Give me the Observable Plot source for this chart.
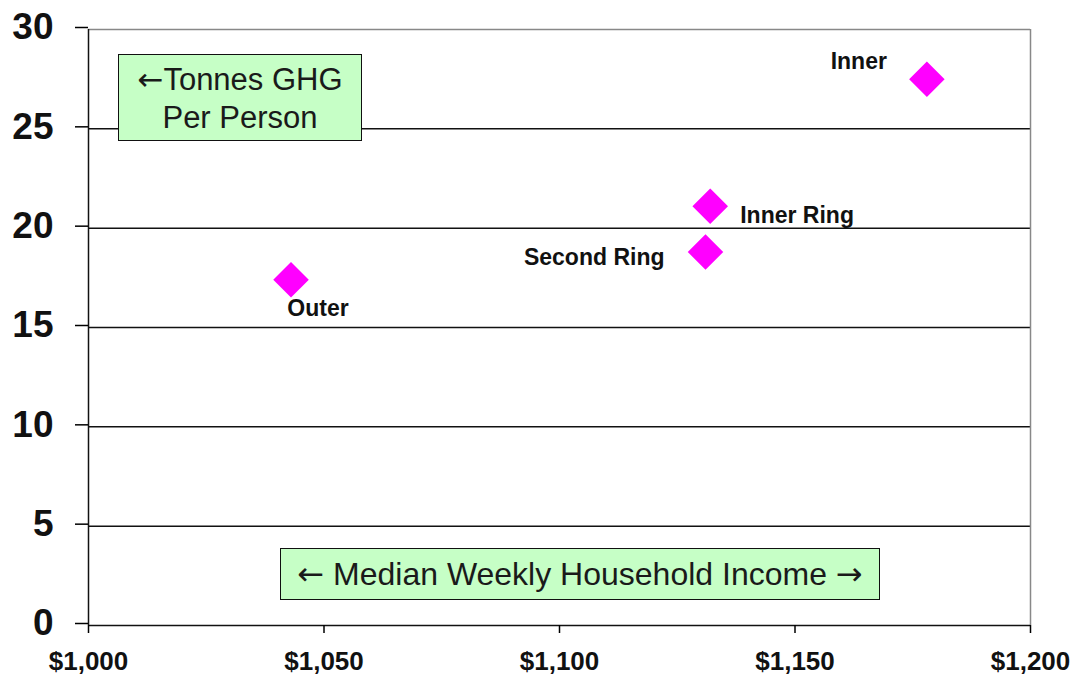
<!DOCTYPE html>
<html>
<head>
<meta charset="utf-8">
<script src="https://cdn.jsdelivr.net/npm/d3@7"></script>
<script src="https://cdn.jsdelivr.net/npm/@observablehq/plot@0.6"></script>
<style>
  html, body { margin: 0; padding: 0; background: #fff; }
  #wrap { position: relative; width: 1080px; height: 684px; }
  .box { position: absolute; background: #c6ffc6; border: 1.5px solid #111; box-sizing: border-box;
         font-family: "Liberation Sans", Arial, sans-serif; color: #1a1a1a; text-align: center; }
  .arr { font-family: "DejaVu Sans", sans-serif; }
</style>
</head>
<body>
<div id="wrap"></div>
<script>
const regions = ["Inner", "Inner Ring", "Second Ring", "Outer"];
const income = [1178, 1132, 1131, 1043];
const ghg = [27.5, 21.1, 18.8, 17.4];
const xTicks = [1000, 1050, 1100, 1150, 1200];
const yTicks = [0, 5, 10, 15, 20, 25, 30];
const gridTicks = [5, 10, 15, 20, 25];
const yLabel = ["←", "Tonnes GHG", "Per Person"];
const xLabel = ["←", "Median Weekly Household Income", "→"];

const data = regions.map((name, i) => ({name, income: income[i], ghg: ghg[i]}));
const pick = (n) => data.filter(d => d.name === n);
const labelFont = {fontFamily: "Liberation Sans, Arial, sans-serif", fontWeight: "bold", fontSize: 23, fill: "#111"};

const chart = Plot.plot({
  width: 1080,
  height: 684,
  marginLeft: 88,
  marginRight: 50,
  marginTop: 29,
  marginBottom: 59,
  style: {background: "#fff", overflow: "visible"},
  x: {domain: [1000, 1200], label: null},
  y: {domain: [0, 30], label: null},
  marks: [
    Plot.gridY(gridTicks, {stroke: "#111", strokeOpacity: 1, strokeWidth: 1.5}),
    Plot.ruleY([30], {stroke: "#888", strokeWidth: 1.5}),
    Plot.ruleX([1200], {stroke: "#888", strokeWidth: 1.5}),
    Plot.ruleX([1000], {stroke: "#111", strokeWidth: 1.5}),
    Plot.ruleY([0], {stroke: "#111", strokeWidth: 1.5}),
    Plot.axisY(yTicks, {label: null, tickSize: 13, tickPadding: 22, fontSize: 37, fontWeight: "bold",
      fontFamily: "Liberation Sans, Arial, sans-serif", fill: "#111", dy: -2, strokeWidth: 1.5}),
    Plot.axisX(xTicks, {label: null, tickSize: 8, tickPadding: 18, fontSize: 26, fontWeight: "bold",
      fontFamily: "Liberation Sans, Arial, sans-serif", fill: "#111", strokeWidth: 1.5,
      tickFormat: d => "$" + d3.format(",")(d)}),
    Plot.dot(data, {x: "income", y: "ghg", symbol: "diamond2", r: 16, fill: "#ff00ff", stroke: null}),
    Plot.text(pick("Inner"), {x: "income", y: "ghg", text: "name", textAnchor: "end", dx: -40, dy: -18, ...labelFont}),
    Plot.text(pick("Inner Ring"), {x: "income", y: "ghg", text: "name", textAnchor: "start", dx: 30, dy: 9, ...labelFont}),
    Plot.text(pick("Second Ring"), {x: "income", y: "ghg", text: "name", textAnchor: "end", dx: -41, dy: 6, ...labelFont}),
    Plot.text(pick("Outer"), {x: "income", y: "ghg", text: "name", textAnchor: "middle", dx: 27, dy: 29, ...labelFont})
  ]
});

const wrap = document.getElementById("wrap");
wrap.appendChild(chart);

const b1 = document.createElement("div");
b1.className = "box";
Object.assign(b1.style, {left: "118px", top: "54px", width: "244px", height: "87px", fontSize: "31px", lineHeight: "38px", paddingTop: "5px"});
b1.innerHTML = `<span class="arr">${yLabel[0]}</span>${yLabel[1]}<br>${yLabel[2]}`;
wrap.appendChild(b1);

const b2 = document.createElement("div");
b2.className = "box";
Object.assign(b2.style, {left: "280px", top: "548px", width: "600px", height: "52px", fontSize: "32px", lineHeight: "50px", whiteSpace: "nowrap"});
b2.innerHTML = `<span class="arr">${xLabel[0]}</span> ${xLabel[1]} <span class="arr">${xLabel[2]}</span>`;
wrap.appendChild(b2);
</script>
</body>
</html>
